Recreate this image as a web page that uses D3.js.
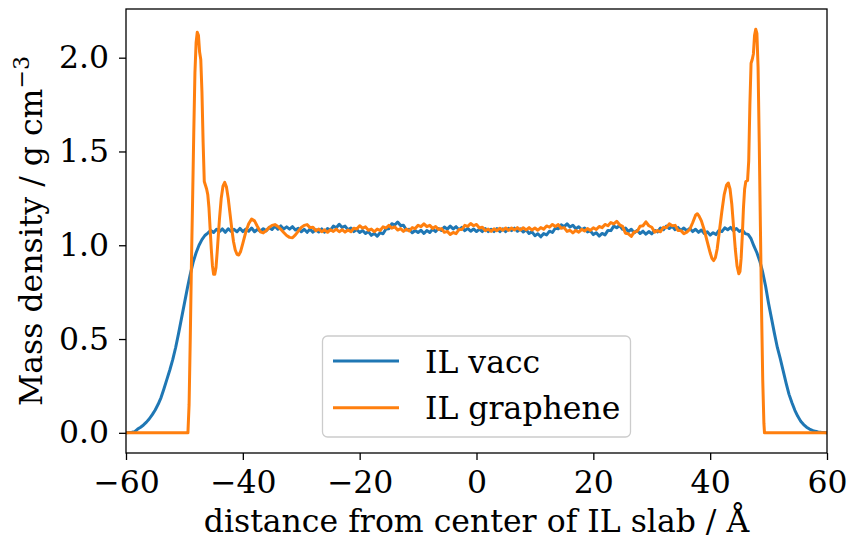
<!DOCTYPE html>
<html>
<head>
<meta charset="utf-8">
<script src="https://cdn.jsdelivr.net/npm/d3@7"></script>
<style>
  html, body { margin: 0; padding: 0; background: #fff; }
  svg { display: block; }
  text { font-family: "DejaVu Serif", serif; fill: #000; }
</style>
</head>
<body>
<svg id="chart" width="852" height="545"></svg>
<script>
// Mass density profiles across the IL slab, [distance / Å, density / g cm^-3]

// IL in vacuum: smooth interfacial tails on each side
const vaccLeftTail = [
  [-60, 0.001], [-59.5, 0.002], [-59, 0.003], [-58.5, 0.006], [-58, 0.02], [-57.5, 0.03],
  [-57, 0.042], [-56.5, 0.057], [-56, 0.075], [-55.5, 0.097], [-55, 0.122], [-54.5, 0.152],
  [-54, 0.188], [-53.5, 0.235], [-53, 0.285], [-52.5, 0.335], [-52, 0.39], [-51.5, 0.455],
  [-51, 0.53], [-50.5, 0.61], [-50, 0.69], [-49.5, 0.77], [-49, 0.845], [-48.5, 0.91],
  [-48, 0.96], [-47.5, 1.0], [-47, 1.03], [-46.5, 1.052], [-46, 1.065]
];

// IL in vacuum: bulk region (0.5 Å bins)
const vaccBulk = [
  [-45.5, 1.079], [-45, 1.068], [-44.5, 1.085], [-44, 1.073], [-43.5, 1.087], [-43, 1.069],
  [-42.5, 1.088], [-42, 1.074], [-41.5, 1.085], [-41, 1.072], [-40.5, 1.09], [-40, 1.073],
  [-39.5, 1.086], [-39, 1.075], [-38.5, 1.092], [-38, 1.072], [-37.5, 1.085], [-37, 1.075],
  [-36.5, 1.088], [-36, 1.077], [-35.5, 1.095], [-35, 1.084], [-34.5, 1.102], [-34, 1.086],
  [-33.5, 1.103], [-33, 1.087], [-32.5, 1.098], [-32, 1.086], [-31.5, 1.099], [-31, 1.081],
  [-30.5, 1.091], [-30, 1.072], [-29.5, 1.085], [-29, 1.069], [-28.5, 1.086], [-28, 1.07],
  [-27.5, 1.083], [-27, 1.071], [-26.5, 1.087], [-26, 1.07], [-25.5, 1.089], [-25, 1.081],
  [-24.5, 1.102], [-24, 1.093], [-23.5, 1.112], [-23, 1.095], [-22.5, 1.102], [-22, 1.083],
  [-21.5, 1.092], [-21, 1.073], [-20.5, 1.084], [-20, 1.068], [-19.5, 1.079], [-19, 1.063],
  [-18.5, 1.073], [-18, 1.053], [-17.5, 1.063], [-17, 1.048], [-16.5, 1.067], [-16, 1.061],
  [-15.5, 1.087], [-15, 1.088], [-14.5, 1.115], [-14, 1.108], [-13.5, 1.124], [-13, 1.105],
  [-12.5, 1.107], [-12, 1.081], [-11.5, 1.085], [-11, 1.067], [-10.5, 1.079], [-10, 1.068],
  [-9.5, 1.08], [-9, 1.063], [-8.5, 1.079], [-8, 1.068], [-7.5, 1.085], [-7, 1.073],
  [-6.5, 1.089], [-6, 1.079], [-5.5, 1.097], [-5, 1.086], [-4.5, 1.102], [-4, 1.087],
  [-3.5, 1.099], [-3, 1.083], [-2.5, 1.095], [-2, 1.078], [-1.5, 1.09], [-1, 1.075],
  [-0.5, 1.087], [0, 1.073], [0.5, 1.086], [1, 1.073], [1.5, 1.089], [2, 1.073],
  [2.5, 1.085], [3, 1.073], [3.5, 1.089], [4, 1.073], [4.5, 1.088], [5, 1.073],
  [5.5, 1.09], [6, 1.078], [6.5, 1.091], [7, 1.075], [7.5, 1.087], [8, 1.071],
  [8.5, 1.082], [9, 1.063], [9.5, 1.071], [10, 1.051], [10.5, 1.061], [11, 1.045],
  [11.5, 1.062], [12, 1.055], [12.5, 1.075], [13, 1.068], [13.5, 1.092], [14, 1.088],
  [14.5, 1.109], [15, 1.099], [15.5, 1.114], [16, 1.097], [16.5, 1.107], [17, 1.088],
  [17.5, 1.099], [18, 1.083], [18.5, 1.092], [19, 1.071], [19.5, 1.077], [20, 1.057],
  [20.5, 1.067], [21, 1.049], [21.5, 1.063], [22, 1.055], [22.5, 1.079], [23, 1.078],
  [23.5, 1.102], [24, 1.093], [24.5, 1.105], [25, 1.085], [25.5, 1.092], [26, 1.073],
  [26.5, 1.085], [27, 1.067], [27.5, 1.079], [28, 1.063], [28.5, 1.075], [29, 1.059],
  [29.5, 1.073], [30, 1.061], [30.5, 1.079], [31, 1.071], [31.5, 1.092], [32, 1.083],
  [32.5, 1.102], [33, 1.089], [33.5, 1.101], [34, 1.083], [34.5, 1.095], [35, 1.079],
  [35.5, 1.092], [36, 1.077], [36.5, 1.089], [37, 1.073], [37.5, 1.085], [38, 1.069],
  [38.5, 1.081], [39, 1.063], [39.5, 1.072], [40, 1.054], [40.5, 1.067], [41, 1.057],
  [41.5, 1.079], [42, 1.073], [42.5, 1.093], [43, 1.083], [43.5, 1.095], [44, 1.078],
  [44.5, 1.089], [45, 1.073], [45.5, 1.082], [46, 1.062]
];

const vaccRightTail = [
  [46.5, 1.058], [47, 1.035], [47.5, 0.995], [48, 0.96], [48.5, 0.915], [49, 0.855],
  [49.5, 0.78], [50, 0.69], [50.5, 0.61], [51, 0.53], [51.5, 0.455], [52, 0.395],
  [52.5, 0.33], [53, 0.265], [53.5, 0.205], [54, 0.16], [54.5, 0.12], [55, 0.088],
  [55.5, 0.062], [56, 0.044], [56.5, 0.03], [57, 0.02], [57.5, 0.013], [58, 0.008],
  [58.5, 0.005], [59, 0.003], [59.5, 0.002], [60, 0.001]
];

// IL confined by graphene: empty outside the walls, layered near them
const grapheneLeftWall = [
  [-60, 0], [-49.4, 0], [-49.2, 0.15], [-49.0, 0.5], [-48.8, 0.9], [-48.6, 1.24],
  [-48.4, 1.6], [-48.2, 1.92], [-48.0, 2.08], [-47.8, 2.136], [-47.6, 2.12], [-47.4, 2.03],
  [-47.2, 1.99], [-47.0, 1.82], [-46.8, 1.55], [-46.6, 1.34], [-46.4, 1.32], [-46.2, 1.30],
  [-46.0, 1.27], [-45.8, 1.2], [-45.6, 1.09], [-45.4, 0.98], [-45.2, 0.89], [-45.0, 0.845],
  [-44.8, 0.845], [-44.6, 0.88], [-44.4, 0.96], [-44.2, 1.05], [-44.0, 1.14], [-43.7, 1.25],
  [-43.4, 1.315], [-43.1, 1.335], [-42.8, 1.31], [-42.5, 1.25], [-42.2, 1.17], [-41.9, 1.09],
  [-41.6, 1.02], [-41.3, 0.975], [-41.0, 0.952], [-40.7, 0.948], [-40.4, 0.965], [-40.0, 1.01],
  [-39.5, 1.07], [-39.0, 1.115], [-38.5, 1.14], [-38.0, 1.13], [-37.5, 1.1], [-37.0, 1.072],
  [-36.5, 1.066], [-36.0, 1.078], [-35.5, 1.095], [-35.0, 1.106], [-34.5, 1.11], [-34.0, 1.1],
  [-33.5, 1.085], [-33.0, 1.068], [-32.5, 1.052], [-32.0, 1.042], [-31.5, 1.04], [-31.0, 1.055],
  [-30.5, 1.075], [-30.0, 1.095], [-29.5, 1.106]
];

const grapheneBulk = [
  [-29, 1.11], [-28.5, 1.094], [-28, 1.096], [-27.5, 1.077], [-27, 1.086], [-26.5, 1.072],
  [-26, 1.082], [-25.5, 1.069], [-25, 1.083], [-24.5, 1.074], [-24, 1.086], [-23.5, 1.072],
  [-23, 1.083], [-22.5, 1.07], [-22, 1.081], [-21.5, 1.072], [-21, 1.091], [-20.5, 1.087],
  [-20, 1.104], [-19.5, 1.091], [-19, 1.098], [-18.5, 1.08], [-18, 1.086], [-17.5, 1.072],
  [-17, 1.086], [-16.5, 1.079], [-16, 1.098], [-15.5, 1.092], [-15, 1.106], [-14.5, 1.091],
  [-14, 1.098], [-13.5, 1.081], [-13, 1.089], [-12.5, 1.074], [-12, 1.086], [-11.5, 1.076],
  [-11, 1.094], [-10.5, 1.089], [-10, 1.106], [-9.5, 1.099], [-9, 1.114], [-8.5, 1.099],
  [-8, 1.106], [-7.5, 1.09], [-7, 1.1], [-6.5, 1.084], [-6, 1.089], [-5.5, 1.069],
  [-5, 1.074], [-4.5, 1.057], [-4, 1.068], [-3.5, 1.062], [-3, 1.084], [-2.5, 1.084],
  [-2, 1.106], [-1.5, 1.101], [-1, 1.116], [-0.5, 1.104], [0, 1.111], [0.5, 1.092],
  [1, 1.096], [1.5, 1.078], [2, 1.086], [2.5, 1.074], [3, 1.088], [3.5, 1.078],
  [4, 1.091], [4.5, 1.08], [5, 1.092], [5.5, 1.079], [6, 1.092], [6.5, 1.082],
  [7, 1.094], [7.5, 1.081], [8, 1.093], [8.5, 1.082], [9, 1.094], [9.5, 1.081],
  [10, 1.092], [10.5, 1.08], [11, 1.094], [11.5, 1.086], [12, 1.103], [12.5, 1.096],
  [13, 1.111], [13.5, 1.1], [14, 1.11], [14.5, 1.091], [15, 1.094], [15.5, 1.074],
  [16, 1.08], [16.5, 1.066], [17, 1.079], [17.5, 1.07], [18, 1.085], [18.5, 1.076],
  [19, 1.089], [19.5, 1.079], [20, 1.093], [20.5, 1.084], [21, 1.1], [21.5, 1.094],
  [22, 1.111], [22.5, 1.104], [23, 1.121], [23.5, 1.114], [24, 1.128], [24.5, 1.109],
  [25, 1.101], [25.5, 1.064], [26, 1.061], [26.5, 1.047], [27, 1.071], [27.5, 1.074],
  [28, 1.101], [28.5, 1.104], [29, 1.125], [29.5, 1.104], [30, 1.096], [30.5, 1.07],
  [31, 1.078], [31.5, 1.072], [32, 1.096], [32.5, 1.094], [33, 1.114], [33.5, 1.104],
  [34, 1.106], [34.5, 1.079], [35, 1.078], [35.5, 1.062]
];

const grapheneRightWall = [
  [36.0, 1.07], [36.5, 1.085], [37.0, 1.12], [37.5, 1.16], [37.8, 1.168], [38.1, 1.155],
  [38.5, 1.13], [39.0, 1.08], [39.5, 1.02], [40.0, 0.96], [40.3, 0.93], [40.6, 0.918],
  [40.9, 0.935], [41.2, 0.98], [41.6, 1.08], [42.0, 1.18], [42.4, 1.27], [42.8, 1.32],
  [43.1, 1.332], [43.4, 1.3], [43.7, 1.22], [44.0, 1.1], [44.3, 0.98], [44.6, 0.89],
  [44.9, 0.848], [45.1, 0.86], [45.3, 0.93], [45.5, 1.05], [45.7, 1.2], [45.9, 1.3],
  [46.1, 1.34], [46.4, 1.345], [46.6, 1.45], [46.8, 1.75], [47.0, 1.97], [47.2, 1.99],
  [47.4, 2.02], [47.6, 2.12], [47.8, 2.152], [48.0, 2.13], [48.2, 1.95], [48.4, 1.55],
  [48.6, 1.1], [48.8, 0.65], [49.0, 0.28], [49.2, 0.05], [49.3, 0], [60, 0]
];

const xTicks = [-60, -40, -20, 0, 20, 40, 60];
const yTicks = [0.0, 0.5, 1.0, 1.5, 2.0];
const seriesNames = ["IL vacc", "IL graphene"];
const seriesColors = ["#1f77b4", "#ff7f0e"];

const series = [
  vaccLeftTail.concat(vaccBulk, vaccRightTail),
  grapheneLeftWall.concat(grapheneBulk, grapheneRightWall)
];

// ---- layout ----
const svg = d3.select("#chart");
const plot = { left: 126, right: 827, top: 9, bottom: 453 };

const x = d3.scaleLinear().domain([-60, 60]).range([plot.left, plot.right]);
const yMax = 2.152, yPad = 0.05 * yMax;
const y = d3.scaleLinear().domain([-yPad, yMax + yPad]).range([plot.bottom, plot.top]);

svg.append("defs").append("clipPath").attr("id", "plotClip")
  .append("rect")
  .attr("x", plot.left).attr("y", plot.top)
  .attr("width", plot.right - plot.left).attr("height", plot.bottom - plot.top);

const line = d3.line().x(d => x(d[0])).y(d => y(d[1]));

const lines = svg.append("g").attr("clip-path", "url(#plotClip)");
series.forEach((s, i) => {
  lines.append("path")
    .datum(s)
    .attr("d", line)
    .attr("fill", "none")
    .attr("stroke", seriesColors[i])
    .attr("stroke-width", 3)
    .attr("stroke-linejoin", "round")
    .attr("stroke-linecap", "square");
});

// ---- axes ----
const fontSize = 31.5;
const xAxis = d3.axisBottom(x).tickValues(xTicks).tickSize(7).tickPadding(11)
  .tickFormat(d3.format("d"));
const yAxis = d3.axisLeft(y).tickValues(yTicks).tickSize(7).tickPadding(10)
  .tickFormat(d3.format(".1f"));

const gx = svg.append("g").attr("transform", `translate(0,${plot.bottom})`).call(xAxis);
const gy = svg.append("g").attr("transform", `translate(${plot.left},0)`).call(yAxis);
[gx, gy].forEach(g => {
  g.select(".domain").remove();
  g.selectAll(".tick line").attr("stroke", "#000").attr("stroke-width", 1.3);
  g.selectAll(".tick text")
    .style("font-family", '"DejaVu Serif", serif')
    .style("font-size", fontSize + "px")
    .attr("fill", "#000");
});

// frame
svg.append("rect")
  .attr("x", plot.left).attr("y", plot.top)
  .attr("width", plot.right - plot.left).attr("height", plot.bottom - plot.top)
  .attr("fill", "none").attr("stroke", "#000").attr("stroke-width", 1.3);

// axis titles
svg.append("text")
  .attr("x", (plot.left + plot.right) / 2).attr("y", 532)
  .attr("text-anchor", "middle")
  .style("font-size", fontSize + "px")
  .text("distance from center of IL slab / Å");

const yTitle = svg.append("text")
  .attr("transform", `translate(42,${(plot.top + plot.bottom) / 2}) rotate(-90)`)
  .attr("text-anchor", "middle")
  .style("font-size", fontSize + "px");
yTitle.append("tspan").text("Mass density / g cm");
yTitle.append("tspan").attr("dy", -13).style("font-size", (fontSize * 0.7) + "px").text("−3");

// ---- legend ----
const legend = svg.append("g");
legend.append("rect")
  .attr("x", 322.5).attr("y", 336).attr("width", 308).attr("height", 101)
  .attr("rx", 5).attr("ry", 5)
  .attr("fill", "#fff").attr("fill-opacity", 0.8)
  .attr("stroke", "#cccccc").attr("stroke-width", 1.3);
seriesNames.forEach((name, i) => {
  const cy = 361 + i * 46.7;
  legend.append("line")
    .attr("x1", 333).attr("x2", 399).attr("y1", cy).attr("y2", cy)
    .attr("stroke", seriesColors[i]).attr("stroke-width", 3);
  legend.append("text")
    .attr("x", 425).attr("y", cy + 11.5)
    .style("font-size", fontSize + "px")
    .text(name);
});
</script>
</body>
</html>
